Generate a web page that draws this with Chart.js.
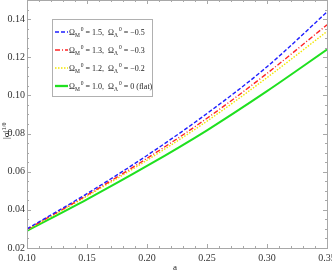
<!DOCTYPE html>
<html>
<head>
<meta charset="utf-8">
<script src="https://cdn.jsdelivr.net/npm/chart.js@4/dist/chart.umd.min.js"></script>
<style>
  html, body { margin: 0; padding: 0; background: #fff; }
  #wrap { width: 332px; height: 277px; position: relative; }
</style>
</head>
<body>
<div id="wrap"><canvas id="canvas"></canvas></div>
<script>
// values
var aValues = [0.10, 0.15, 0.20, 0.25, 0.30, 0.35];
var sigma15 = [0.0300, 0.0485, 0.0685, 0.0905, 0.1150, 0.1437];
var sigma13 = [0.0297, 0.0477, 0.0670, 0.0880, 0.1115, 0.1370];
var sigma12 = [0.0295, 0.0472, 0.0660, 0.0865, 0.1093, 0.1335];
var sigmaFlat = [0.0290, 0.0455, 0.0630, 0.0817, 0.1022, 0.1240];

var seriesNames = ['1.5|−0.5', '1.3|−0.3', '1.2|−0.2', '1.0|0 (flat)'];
var xTicks = [0.10, 0.15, 0.20, 0.25, 0.30, 0.35];
var yTicks = [0.02, 0.04, 0.06, 0.08, 0.10, 0.12, 0.14];

var colors = ['#1f1fff', '#ff2424', '#f2e600', '#1fe01f'];
var dashes = [[4, 2], [5, 2, 1, 2], [1.5, 1.5], []];
var widths = [1.4, 1.4, 1.4, 2];

function pts(ys) {
  return ys.map(function (y, i) { return { x: aValues[i], y: y }; });
}

var serif = "'Liberation Serif', 'DejaVu Serif', serif";

// frame with inward ticks, legend box and axis titles (Mathematica look)
var framePlugin = {
  id: 'frame',
  afterDraw: function (chart) {
    var ctx = chart.ctx;
    var ca = chart.chartArea;
    var xs = chart.scales.x, ys = chart.scales.y;
    ctx.save();
    ctx.strokeStyle = '#a8a8a8';
    ctx.lineWidth = 1;
    ctx.setLineDash([]);
    ctx.strokeRect(Math.round(ca.left) + 0.5, Math.round(ca.top) + 0.5,
      Math.round(ca.right - ca.left), Math.round(ca.bottom - ca.top));

    ctx.beginPath();
    for (var v = 0.10; v <= 0.3501; v += 0.01) {
      var px = Math.round(xs.getPixelForValue(v)) + 0.5;
      var major = Math.abs(v * 20 - Math.round(v * 20)) < 1e-6;
      var len = major ? 4 : 2;
      ctx.moveTo(px, ca.bottom); ctx.lineTo(px, ca.bottom - len);
      ctx.moveTo(px, ca.top); ctx.lineTo(px, ca.top + len);
    }
    for (var w = 0.02; w <= 0.1501; w += 0.005) {
      var py = Math.round(ys.getPixelForValue(w)) + 0.5;
      var maj = Math.abs(w * 50 - Math.round(w * 50)) < 1e-6;
      var l = maj ? 4 : 2;
      ctx.moveTo(ca.left, py); ctx.lineTo(ca.left + l, py);
      ctx.moveTo(ca.right, py); ctx.lineTo(ca.right - l, py);
    }
    ctx.stroke();

    var bx = 52.5, by = 19.5, bw = 100, bh = 77;
    ctx.fillStyle = '#fff';
    ctx.fillRect(bx, by, bw, bh);
    ctx.strokeStyle = '#b0b0b0';
    ctx.strokeRect(bx, by, bw, bh);
    var rows = [32, 50, 68, 86];
    seriesNames.forEach(function (name, i) {
      var y = rows[i];
      ctx.strokeStyle = colors[i];
      ctx.lineWidth = widths[i] + 0.3;
      ctx.setLineDash(dashes[i]);
      ctx.beginPath();
      ctx.moveTo(55, y); ctx.lineTo(68, y);
      ctx.stroke();
      ctx.setLineDash([]);
      var parts = name.split('|');
      var x = 69;
      ctx.fillStyle = '#222';
      ctx.textBaseline = 'alphabetic';
      ctx.textAlign = 'left';
      var base = y + 3;
      function put(t, size, dy) {
        ctx.font = size + 'px ' + serif;
        ctx.fillText(t, x, base + dy);
        x += ctx.measureText(t).width;
      }
      put('Ω', 8, 0); put('M', 5.5, 1.5); x += 1; put('0', 5.5, -4);
      put(' = ' + parts[0] + ',  Ω', 8, 0); put('Λ', 5.5, 1.5); x += 1; put('0', 5.5, -4);
      put(' = ' + parts[1], 8, 0);
    });

    ctx.fillStyle = '#222';
    ctx.font = '9px ' + serif;
    ctx.textAlign = 'center';
    ctx.textBaseline = 'middle';
    ctx.fillText('a', 175, 268);

    ctx.translate(9, 127);
    ctx.rotate(-Math.PI / 2);
    ctx.textAlign = 'left';
    ctx.textBaseline = 'alphabetic';
    var tx = -12;
    ctx.font = '9px ' + serif;
    ctx.fillText('|σ|', tx, 0);
    tx += ctx.measureText('|σ|').width;
    ctx.font = '6.5px ' + serif;
    ctx.fillText('1/θ', tx, -3.5);
    ctx.restore();
  }
};

var chart = new Chart(document.getElementById('canvas').getContext('2d'), {
  type: 'line',
  data: {
    datasets: [sigma15, sigma13, sigma12, sigmaFlat].map(function (s, i) {
      return {
        data: pts(s),
        borderColor: colors[i],
        borderWidth: widths[i],
        borderDash: dashes[i],
        pointRadius: 0,
        fill: false,
        cubicInterpolationMode: 'monotone'
      };
    })
  },
  options: {
    responsive: true,
    maintainAspectRatio: false,
    animation: false,
    layout: { padding: { top: 0, right: 5, left: 0, bottom: 0 } },
    plugins: { legend: { display: false }, tooltip: { enabled: false } },
    scales: {
      x: {
        type: 'linear',
        min: 0.10,
        max: 0.35,
        afterBuildTicks: function (s) { s.ticks = xTicks.map(function (v) { return { value: v }; }); },
        afterFit: function (s) { s.height = 29; s.paddingRight = 0; s.paddingLeft = 0; },
        grid: { display: false, drawTicks: false },
        border: { display: false },
        ticks: {
          padding: 4,
          color: '#333',
          font: { family: serif, size: 10 },
          maxRotation: 0,
          callback: function (v) { return v.toFixed(2); }
        }
      },
      y: {
        type: 'linear',
        min: 0.02,
        max: 0.15,
        afterBuildTicks: function (s) { s.ticks = yTicks.map(function (v) { return { value: v }; }); },
        afterFit: function (s) { s.width = 27; s.paddingTop = 0; s.paddingBottom = 0; },
        grid: { display: false, drawTicks: false },
        border: { display: false },
        ticks: {
          padding: 2,
          color: '#333',
          font: { family: serif, size: 10 },
          callback: function (v) { return v.toFixed(2); }
        }
      }
    }
  },
  plugins: [framePlugin]
});
</script>
</body>
</html>
